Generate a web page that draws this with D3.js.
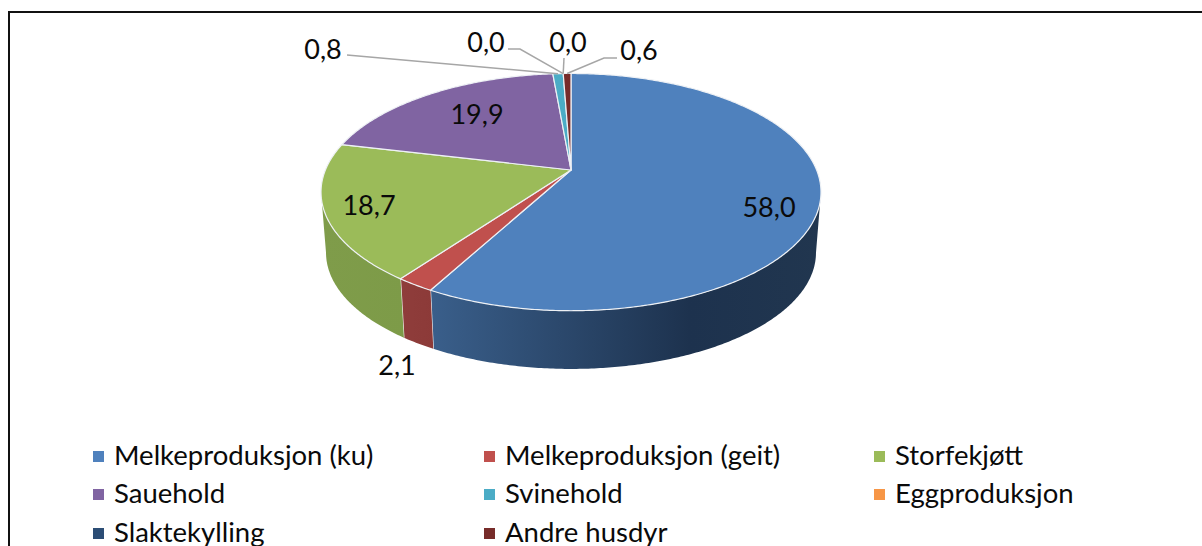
<!DOCTYPE html>
<html>
<head>
<meta charset="utf-8">
<script src="https://cdn.jsdelivr.net/npm/d3@7"></script>
<style>
html, body { margin: 0; padding: 0; background: #fff; overflow: hidden; }
text { font-family: Lato, "Open Sans", sans-serif; fill: #0a0a0a; }
</style>
</head>
<body>
<div id="chart"></div>
<script>
const categories = ["Melkeproduksjon (ku)", "Melkeproduksjon (geit)", "Storfekjøtt", "Sauehold", "Svinehold", "Eggproduksjon", "Slaktekylling", "Andre husdyr"];
const values = [58.0, 2.1, 18.7, 19.9, 0.8, 0.0, 0.0, 0.6];
const colors = ["#4f81bd", "#c0504d", "#9bbb59", "#8064a2", "#4bacc6", "#f79646", "#2c4d75", "#772c2a"];

const width = 1202, height = 546;
const fmt = v => v.toFixed(1).replace(".", ",");

const svg = d3.select("#chart").append("svg")
  .attr("width", width)
  .attr("height", height);

// frame, cut off by the page on the right and bottom
svg.append("path")
  .attr("d", "M9,546V12H1202")
  .attr("fill", "none")
  .attr("stroke", "#111")
  .attr("stroke-width", 2);

// the pie is a circle seen in perspective, front part bigger than the back
const persp = 0.1864, scaleX = 245.6, scaleY = 114.5;
const apexX = 571, apexY = 170;
const depth = 61, bottomScale = 0.98;

function project(a, s, dy) {
  const w = 1 + persp * Math.cos(a);
  return [
    apexX + s * scaleX * Math.sin(a) / w,
    apexY + dy - s * scaleY * Math.cos(a) / w
  ];
}
const topPt = a => project(a, 1, 0);
const bottomPt = a => project(a, bottomScale, depth);

const line = d3.line();
function arcAngles(a0, a1) {
  const n = Math.max(2, Math.ceil(Math.abs(a1 - a0) / 0.01));
  return d3.range(n + 1).map(i => a0 + (a1 - a0) * i / n);
}

const slices = d3.pie().sort(null).value(d => d)(values)
  .map((s, i) => ({ ...s, i, mid: (s.startAngle + s.endAngle) / 2 }));

// gradients for the side wall
const defs = svg.append("defs");
const sideStops = {
  0: [[430, "#3a5f8b"], [690, "#1d324e"], [821, "#21364f"]],
  1: [[400, "#8f3d3b"], [435, "#8c3a38"]],
  2: [[322, "#7f9c4a"], [405, "#7d9b48"]]
};
Object.keys(sideStops).forEach(k => {
  const g = defs.append("linearGradient")
    .attr("id", "side" + k)
    .attr("gradientUnits", "userSpaceOnUse")
    .attr("x1", sideStops[k][0][0]).attr("x2", sideStops[k][sideStops[k].length - 1][0])
    .attr("y1", 0).attr("y2", 0);
  const span = sideStops[k][sideStops[k].length - 1][0] - sideStops[k][0][0];
  sideStops[k].forEach(st => {
    g.append("stop")
      .attr("offset", (st[0] - sideStops[k][0][0]) / span)
      .attr("stop-color", st[1]);
  });
});

// side wall only shows between the two silhouette points
const silhouette = Math.acos(-persp);
const sideFrom = silhouette, sideTo = 2 * Math.PI - silhouette;

slices.forEach(s => {
  const a0 = Math.max(s.startAngle, sideFrom), a1 = Math.min(s.endAngle, sideTo);
  if (a1 <= a0) return;
  const angles = arcAngles(a0, a1);
  const pts = angles.map(topPt).concat(angles.slice().reverse().map(bottomPt));
  svg.append("path")
    .attr("d", line(pts) + "Z")
    .attr("fill", "url(#side" + s.i + ")");
  // white seam between the slices on the wall
  if (s.endAngle < sideTo && s.endAngle > sideFrom) {
    svg.append("path")
      .attr("d", line([topPt(s.endAngle), bottomPt(s.endAngle)]))
      .attr("stroke", "#f2f2f2")
      .attr("stroke-width", 1.2);
  }
});

// top faces
slices.filter(s => s.value > 0).forEach(s => {
  const pts = [[apexX, apexY]].concat(arcAngles(s.startAngle, s.endAngle).map(topPt));
  svg.append("path")
    .attr("d", line(pts) + "Z")
    .attr("fill", colors[s.i])
    .attr("stroke", "#eef1f5")
    .attr("stroke-width", 1.2)
    .attr("stroke-linejoin", "round");
});

// labels inside / next to the pie
const labelFont = 27;
const plainLabels = { 0: [769, 206], 1: [397, 364], 2: [369, 204], 3: [477, 113] };
Object.keys(plainLabels).forEach(i => {
  svg.append("text")
    .attr("x", plainLabels[i][0]).attr("y", plainLabels[i][1])
    .attr("text-anchor", "middle").attr("dominant-baseline", "central")
    .attr("font-size", labelFont)
    .text(fmt(values[i]));
});

// labels with leader lines: label position, then elbow points toward the rim
const leaders = {
  4: { at: [323, 48], via: [[347, 55]] },
  5: { at: [486, 41], via: [[508, 49], [520, 49]] },
  6: { at: [568, 41], via: [[564, 58]] },
  7: { at: [639, 49], via: [[617, 58], [604, 58]] }
};
Object.keys(leaders).forEach(i => {
  const l = leaders[i];
  svg.append("path")
    .attr("d", line(l.via.concat([topPt(slices[i].mid)])))
    .attr("fill", "none")
    .attr("stroke", "#a6a6a6")
    .attr("stroke-width", 1.5);
  svg.append("text")
    .attr("x", l.at[0]).attr("y", l.at[1])
    .attr("text-anchor", "middle").attr("dominant-baseline", "central")
    .attr("font-size", labelFont)
    .text(fmt(values[i]));
});

// legend, three columns
const legendX = [93, 484, 874], legendY = [456, 494, 533];
const legend = svg.append("g");
categories.forEach((name, i) => {
  const x = legendX[i % 3], y = legendY[Math.floor(i / 3)];
  legend.append("rect")
    .attr("x", x).attr("y", y - 5)
    .attr("width", 11).attr("height", 11)
    .attr("fill", colors[i]);
  legend.append("text")
    .attr("x", x + 21).attr("y", y - 2)
    .attr("dominant-baseline", "central")
    .attr("font-size", 27.5)
    .text(name);
});
</script>
</body>
</html>
